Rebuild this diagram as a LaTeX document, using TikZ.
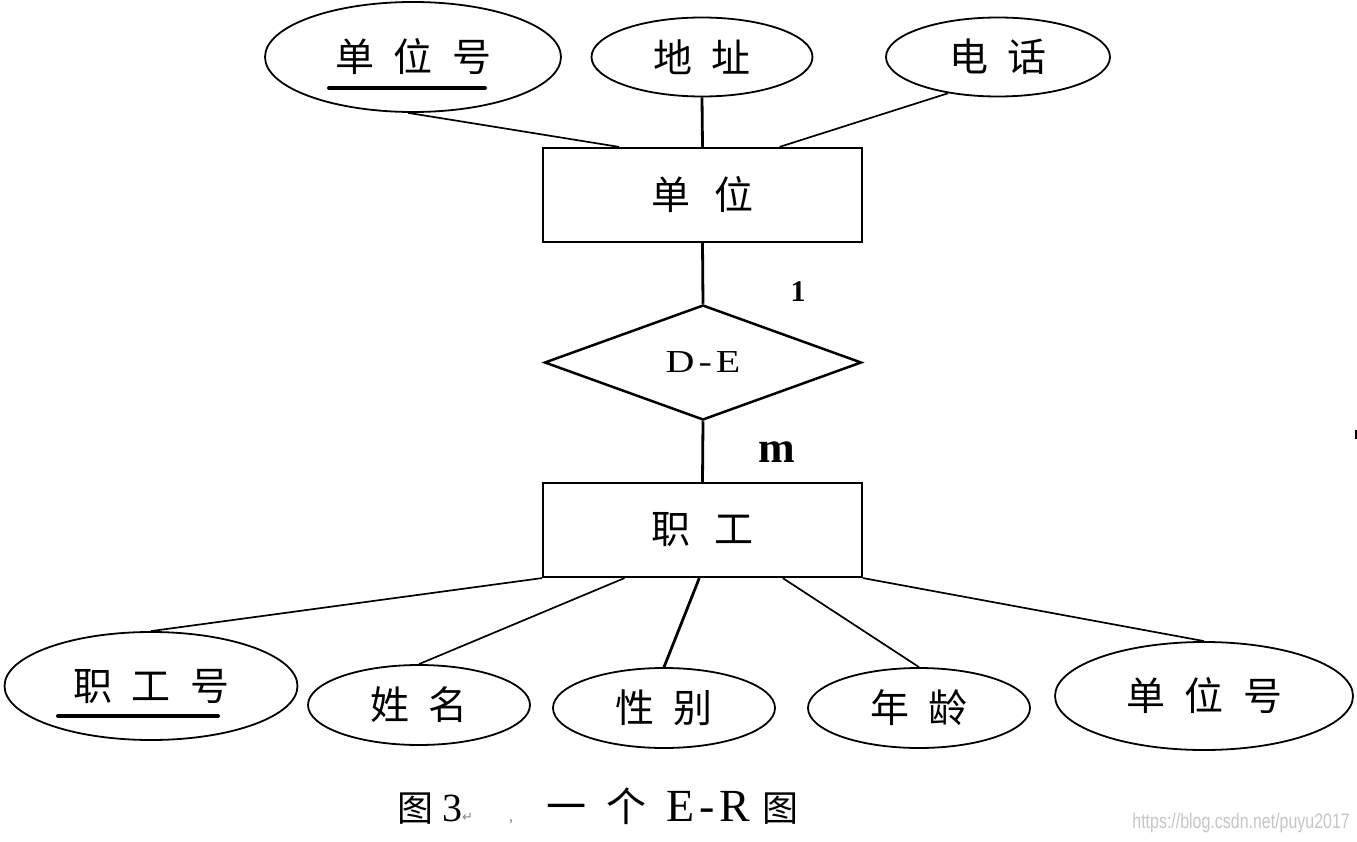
\documentclass[tikz,border=0pt]{standalone}
\usepackage{fontspec}
\setmainfont{Liberation Serif}
\newfontfamily\cjk{Noto Sans CJK SC}
\newfontfamily\symf{DejaVu Sans}
\newfontfamily\wideserif[FakeStretch=1.25]{Liberation Serif}
\newfontfamily\wmfont[FakeStretch=0.76]{Liberation Sans}
\usetikzlibrary{shapes.geometric,calc}
\newcommand\gp{\hspace{0.5em}}
\newcommand\tr{\hspace{0.4em}}
\begin{document}
\begin{tikzpicture}[x=1pt,y=-1pt,
  attr/.style={draw,ellipse,line width=1.8pt,inner sep=0pt,font=\cjk\fontsize{39}{39}\selectfont},
  ent/.style={draw,rectangle,line width=2.2pt,minimum width=319pt,minimum height=94pt,inner sep=0pt,font=\cjk\fontsize{39}{39}\selectfont},
  rel/.style={draw,diamond,line width=2.5pt,aspect=2.76,minimum width=317pt,minimum height=115pt,inner sep=0pt,font=\wideserif\fontsize{32}{32}\selectfont},
  link/.style={line width=1.7pt},
  thicklink/.style={line width=2.8pt},
  card/.style={font=\bfseries\fontsize{30}{30}\selectfont,inner sep=0pt},
  keyline/.style={line width=4pt,line cap=round}
]
\useasboundingbox (0,0) rectangle (1357,842);
\fill[white] (0,0) rectangle (1357,842);

% top attributes
\node[attr,minimum width=296pt,minimum height=110pt] (dno1) at (413,57) {单\gp 位\gp 号\tr};
\node[attr,minimum width=221pt,minimum height=79pt] (addr) at (702,57) {地\gp 址\tr};
\node[attr,minimum width=224pt,minimum height=79pt] (tel) at (998,57) {电\gp 话\tr};
\draw[keyline] ($(dno1.center)+(-84,31)$) -- ($(dno1.center)+(72,31)$);

% entities and relation
\node[ent] (dept) at (702.5,195) {单\hspace{0.6em}位\tr};
\node[rel] (de) at (703,362.5) {D\hspace{4pt}-\hspace{4pt}E};
\node[ent] (emp) at (702.5,530) {职\hspace{0.6em}工\tr};
\node[card] (one) at (798,292) {1};
\node[card,font=\bfseries\fontsize{44}{44}\selectfont] (many) at (777,452) {m};

% bottom attributes
\node[attr,minimum width=293pt,minimum height=108pt] (eno) at (151,686) {职\gp 工\gp 号\tr};
\draw[keyline] ($(eno.center)+(-93,30)$) -- ($(eno.center)+(67,30)$);
\node[attr,minimum width=222pt,minimum height=80pt] (name) at (419,705) {姓\gp 名\tr};
\node[attr,minimum width=222pt,minimum height=80pt] (sex) at (664,708) {性\gp 别\tr};
\node[attr,minimum width=222pt,minimum height=80pt] (age) at (919,708) {年\gp 龄\tr};
\node[attr,minimum width=298pt,minimum height=108pt] (dno2) at (1204,696) {单\gp 位\gp 号\tr};

% connectors
\draw[link] (dno1.265) -- ($(dept.north west)!0.24!(dept.north east)$);
\draw[thicklink] (addr.south) -- (dept.north);
\draw[link] (tel.216) -- ($(dept.north west)!0.74!(dept.north east)$);
\draw[thicklink] (dept.south) -- (de.north);
\draw[thicklink] (de.south) -- (emp.north);
\draw[link] (emp.south west) -- (eno.north);
\draw[link] ($(emp.south west)!0.257!(emp.south east)$) -- (name.north);
\draw[thicklink] ($(emp.south west)!0.49!(emp.south east)$) -- (sex.north);
\draw[link] ($(emp.south west)!0.75!(emp.south east)$) -- (age.north);
\draw[link] (emp.south east) -- (dno2.north);

% caption
\node[anchor=base west,inner sep=0pt] (cap) at (397,821) {{\cjk\fontsize{36}{36}\selectfont 图}\hspace{9pt}{\fontsize{40}{40}\selectfont 3}{\symf\fontsize{13}{13}\selectfont\color{gray}↵}\hspace{36pt}{\color{gray}\fontsize{16}{16}\selectfont ,}\hspace{33pt}{\cjk\fontsize{40}{40}\selectfont 一\hspace{20pt}个}\hspace{20pt}{\fontsize{46}{46}\selectfont E\hspace{5pt}-\hspace{5pt}R}\hspace{12pt}{\cjk\fontsize{36}{36}\selectfont 图}};

% watermark
\node[anchor=base east,inner sep=0pt,text=gray!45,font=\wmfont\fontsize{21}{21}\selectfont] (wm) at (1350,828) {https://blog.csdn.net/puyu2017};

% small edge mark
\fill (1355,430) rectangle (1357,439);
\end{tikzpicture}
\end{document}
